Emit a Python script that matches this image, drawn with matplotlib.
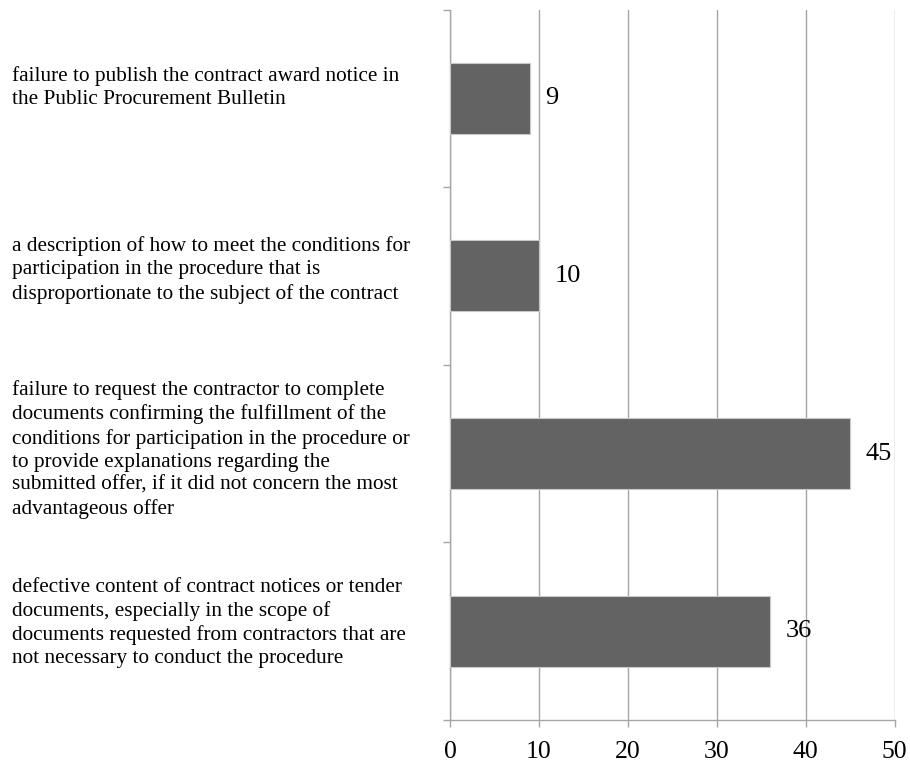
import matplotlib
matplotlib.use("Agg")
import matplotlib.pyplot as plt
from matplotlib.transforms import blended_transform_factory, offset_copy

categories = [
    "failure to publish the contract award notice in\nthe Public Procurement Bulletin",
    "a description of how to meet the conditions for\nparticipation in the procedure that is\ndisproportionate to the subject of the contract",
    "failure to request the contractor to complete\ndocuments confirming the fulfillment of the\nconditions for participation in the procedure or\nto provide explanations regarding the\nsubmitted offer, if it did not concern the most\nadvantageous offer",
    "defective content of contract notices or tender\ndocuments, especially in the scope of\ndocuments requested from contractors that are\nnot necessary to conduct the procedure",
]
values = [9, 10, 45, 36]
xticks = [0, 10, 20, 30, 40, 50]

plt.rcParams['font.family'] = ['Liberation Serif', 'DejaVu Serif']

W, H = 910, 763
fig = plt.figure(figsize=(W / 100, H / 100), dpi=100)
left, right, top, bottom = 450, 894.7, 9.5, 720
ax = fig.add_axes([left / W, 1 - bottom / H, (right - left) / W, (bottom - top) / H])

grid_c = '#a6a6a6'
n = len(categories)
pos = list(range(n))
ax.barh(pos, values, height=0.4, color='#636363', edgecolor='#c8c8c8', linewidth=0.8, zorder=3)

ax.set_xlim(0, 50)
ax.set_ylim(n - 0.5, -0.5)
ax.set_xticks(xticks)
ax.set_xticklabels([str(t) for t in xticks], fontsize=18.5)
ax.set_yticks([i - 0.5 for i in range(n + 1)])
ax.set_yticklabels([])
ax.tick_params(axis='both', colors=grid_c, length=5, width=1.0, labelcolor='black')
ax.tick_params(axis='x', pad=10)
for s in ['top', 'right']:
    ax.spines[s].set_visible(False)
for s in ['left', 'bottom']:
    ax.spines[s].set_color(grid_c)
    ax.spines[s].set_linewidth(1.0)
ax.xaxis.grid(True, color=grid_c, linewidth=1.0, zorder=0)
ax.set_axisbelow(True)

for i, v in enumerate(values):
    ax.annotate(str(v), xy=(v, i), xytext=(11, 0), textcoords='offset points',
                va='center', ha='left', fontsize=19)

tr = blended_transform_factory(fig.transFigure, ax.transData)
label_shift_px = [-11, -6, -4, -8]
for i, c in enumerate(categories):
    t = offset_copy(tr, fig=fig, x=0, y=-label_shift_px[i], units='dots')
    ax.text(12 / W, i, c, transform=t, ha='left', va='center', fontsize=15.3,
            linespacing=1.29)

fig.savefig('out.png', dpi=100)
